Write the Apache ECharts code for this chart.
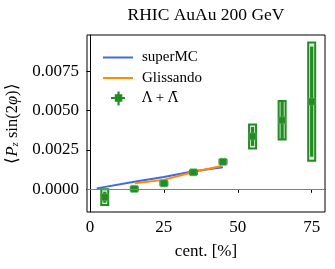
<!DOCTYPE html>
<html><head><meta charset="utf-8">
<script src="https://cdn.jsdelivr.net/npm/echarts@6/dist/echarts.min.js"></script>
<style>html,body{margin:0;padding:0;background:#fff}#c{width:335px;height:269px}</style>
</head><body><div id="c"></div>
<script>
// ---- data ----
const cent = [5, 15, 25, 35, 45, 55, 65, 75];
const polVal = [-0.0005, 0.00003, 0.00038, 0.00108, 0.00175, 0.00336, 0.00439, 0.00557];
const sysErr = [0.0005, 0.0001, 0.0001, 0.0001, 0.00011, 0.00076, 0.00122, 0.00375];
const statErr = [0.00035, 0.00005, 0.00005, 0.00005, 0.00006, 0.0006, 0.00122, 0.0035];
const superMCx = [2.3, 15, 25, 35, 45];
const superMCy = [0.00006, 0.00048, 0.00078, 0.00115, 0.0014];
const glissX = [15.2, 25, 35, 44.5];
const glissY = [0.00038, 0.0006, 0.0011, 0.00148];
const xTicks = [0, 25, 50, 75];
const yTicks = [0, 0.0025, 0.005, 0.0075];

const FONT = 'Liberation Serif';
const GREEN = '#228B22';
const DATA_NAME = 'Λ + Λ̄';

const pointData = cent.map((c, i) => [c, polVal[i], sysErr[i], statErr[i]]);

const chart = echarts.init(document.getElementById('c'), null, {renderer: 'canvas'});
chart.setOption({
  animation: false,
  title: {
    text: 'RHIC AuAu 200 GeV', left: 206, top: 6, textAlign: 'center', padding: 0,
    textStyle: {fontFamily: FONT, fontSize: 17.5, fontWeight: 'normal', color: '#000'}
  },
  grid: {left: 87, right: 10, top: 35, bottom: 57, show: true, borderColor: '#000', borderWidth: 1,
    containLabel: false, outerBoundsMode: 'none'},
  legend: {
    orient: 'vertical', left: 98, top: 45, itemWidth: 30, itemHeight: 14, itemGap: 5.5,
    textStyle: {fontFamily: FONT, fontSize: 15, color: '#000', padding: [0, 0, 0, 4],
      rich: {d: {fontFamily: 'DejaVu Serif', fontSize: 14, color: '#000'}, n: {fontFamily: FONT, fontSize: 15, color: '#000'}}},
    formatter: function (name) {
      if (name === DATA_NAME) return '{d|Λ} {n|+} {d|Λ̄}';
      return name;
    },
    data: [
      {name: 'superMC', icon: 'path://M0,0h30v2h-30z'},
      {name: 'Glissando', icon: 'path://M0,0h30v2h-30z'},
      {name: DATA_NAME, icon: 'path://M6,0h2v5h5v2h-5v6h-2v-6h-6v-2h6z M3.5,2.5h7v7h-7z', itemStyle: {color: GREEN}}
    ]
  },
  xAxis: {
    type: 'value', min: -1, max: 79.5,
    name: 'cent. [%]', nameLocation: 'middle', nameGap: 31,
    nameTextStyle: {fontFamily: FONT, fontSize: 17, color: '#000'},
    axisLine: {show: true, lineStyle: {color: '#000', width: 1}},
    axisTick: {show: true, inside: false, length: 3.5, customValues: xTicks, lineStyle: {color: '#000'}},
    axisLabel: {customValues: xTicks, margin: 7, fontFamily: FONT, fontSize: 17, color: '#000'},
    splitLine: {show: false}
  },
  yAxis: {
    type: 'value', min: -0.00144, max: 0.0098,
    name: '⟨{i|P}{s|z} sin(2{i|φ})⟩', nameLocation: 'middle', nameGap: 66, nameRotate: 90,
    nameTextStyle: {fontFamily: FONT, fontSize: 16.5, color: '#000',
      rich: {i: {fontFamily: FONT, fontStyle: 'italic', fontSize: 16.5}, s: {fontFamily: FONT, fontStyle: 'italic', fontSize: 11, verticalAlign: 'bottom', padding: [6, 0, 0, 0]}}},
    axisLine: {show: true, lineStyle: {color: '#000', width: 1}},
    axisTick: {show: true, inside: false, length: 3.5, customValues: yTicks, lineStyle: {color: '#000'}},
    axisLabel: {customValues: yTicks, margin: 8, fontFamily: FONT, fontSize: 17, color: '#000',
      formatter: v => v.toFixed(4)},
    splitLine: {show: false}
  },
  series: [
    {
      name: 'superMC', type: 'line', showSymbol: false, symbol: 'none', z: 2,
      data: superMCx.map((x, i) => [x, superMCy[i]]),
      lineStyle: {color: '#4169E1', width: 2}, itemStyle: {color: '#4169E1'},
      markLine: {silent: true, symbol: 'none', label: {show: false},
        lineStyle: {color: '#808080', width: 1, type: 'solid'}, data: [{yAxis: 0}]}
    },
    {
      name: 'Glissando', type: 'line', showSymbol: false, symbol: 'none', z: 2,
      data: glissX.map((x, i) => [x, glissY[i]]),
      lineStyle: {color: '#FF8C00', width: 2}, itemStyle: {color: '#FF8C00'}
    },
    {
      name: DATA_NAME, type: 'custom', z: 3,
      itemStyle: {color: GREEN},
      encode: {x: 0, y: 1},
      data: pointData,
      renderItem: function (params, api) {
        const x = api.value(0), y = api.value(1), sys = api.value(2), st = api.value(3);
        const p = api.coord([x, y]);
        const top = api.coord([x, y + sys])[1];
        const bot = api.coord([x, y - sys])[1];
        const sTop = api.coord([x, y + st])[1];
        const sBot = api.coord([x, y - st])[1];
        const w = 7;
        return {
          type: 'group',
          children: [
            {type: 'rect', shape: {x: p[0] - w / 2, y: top, width: w, height: bot - top},
              style: {fill: '#d8ecd8', stroke: GREEN, lineWidth: 2}},
            {type: 'line', shape: {x1: p[0], y1: sTop, x2: p[0], y2: sBot},
              style: {stroke: GREEN, lineWidth: 3.2}},
            {type: 'rect', shape: {x: p[0] - 3.5, y: p[1] - 3.5, width: 7, height: 7},
              style: {fill: GREEN, stroke: '#5fb05f', lineWidth: 0.6}}
          ]
        };
      }
    }
  ]
});
</script></body></html>
